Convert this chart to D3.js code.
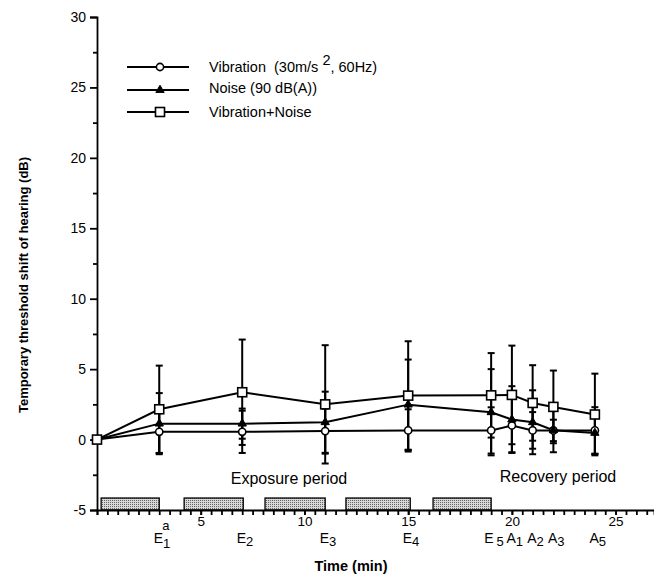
<!DOCTYPE html>
<html>
<head>
<meta charset="utf-8">
<script src="https://cdn.jsdelivr.net/npm/d3@7"></script>
<style>
  body { margin: 0; background: #fff; }
  svg text { font-family: "Liberation Sans", Arial, sans-serif; fill: #000; }
</style>
</head>
<body>
<div id="chart"></div>
<script>
// sampling times (min)
const times = [0, 3, 7, 11, 15, 19, 20, 21, 22, 24];

// mean TTS (dB)
const vibration = [0, 0.55, 0.55, 0.6, 0.65, 0.65, 1.0, 0.65, 0.65, 0.65];
const noise = [0, 1.13, 1.13, 1.23, 2.48, 1.94, 1.42, 1.23, 0.66, 0.47];
const vibNoise = [0, 2.15, 3.36, 2.5, 3.12, 3.14, 3.17, 2.6, 2.32, 1.78];

// standard deviations
const vibrationSD = [0, 1.5, 1.5, 1.6, 1.5, 1.64, 1.9, 1.3, 0.76, 1.65];
const noiseSD = [0, 2.17, 1.07, 2.17, 3.2, 3.06, 2.37, 2.27, 1.56, 1.5];
const vibNoiseSD = [0, 3.1, 3.74, 4.2, 3.86, 3.0, 3.5, 2.68, 2.58, 2.9];

// exposure blocks (start, end in min)
const exposureStart = [0.2, 4.2, 8.1, 12, 16.2];
const exposureEnd = [3, 7.05, 11, 15.1, 19];

// labels under the x axis
const pointLabels = ["E", "E", "E", "E", "E", "A", "A", "A", "A"];
const pointSubs = ["1", "2", "3", "4", "5", "1", "2", "3", "5"];
const pointTimes = [3, 7, 11, 15, 19, 20, 21, 22, 24];

const yTicks = [-5, 0, 5, 10, 15, 20, 25, 30];
const xTicks = [5, 10, 15, 20, 25];

//chart size
const width = 654;
const height = 580;

const svg = d3.select("#chart")
  .append("svg")
  .attr("width", width)
  .attr("height", height);

// stipple pattern for exposure blocks
const defs = svg.append("defs");
const pat = defs.append("pattern")
  .attr("id", "stipple")
  .attr("width", 2)
  .attr("height", 2)
  .attr("patternUnits", "userSpaceOnUse");
pat.append("rect").attr("width", 2).attr("height", 2).attr("fill", "#d8d8d8");
pat.append("rect").attr("width", 1).attr("height", 1).attr("fill", "#666");

const x = d3.scaleLinear().domain([0, 26.85]).range([97, 654]);
const y = d3.scaleLinear().domain([-5, 30]).range([510, 17]);

// exposure blocks
svg.selectAll(".block")
  .data(exposureStart)
  .enter().append("rect")
  .attr("class", "block")
  .attr("x", (d, i) => x(d))
  .attr("y", y(-4.15))
  .attr("width", (d, i) => x(exposureEnd[i]) - x(d))
  .attr("height", y(-5) - y(-4.15))
  .attr("fill", "url(#stipple)")
  .attr("stroke", "#000")
  .attr("stroke-width", 1.3);

//y-axis
const yAxis = svg.append("g")
  .attr("transform", `translate(${x(0)},0)`)
  .call(d3.axisLeft(y).tickValues(yTicks).tickSize(7).tickPadding(4).tickFormat(d => String(d)));
yAxis.selectAll("text").style("font-size", "14px");
svg.append("g")
  .attr("transform", `translate(${x(0)},0)`)
  .call(d3.axisLeft(y).tickValues(d3.range(-2.5, 30, 5)).tickSize(4).tickFormat(""))
  .select(".domain").remove();

//x-axis
const xAxis = svg.append("g")
  .attr("transform", `translate(0,${y(-5)})`)
  .call(d3.axisBottom(x).tickValues(xTicks).tickSize(5).tickPadding(1));
xAxis.selectAll("text").style("font-size", "13.5px");
svg.append("g")
  .attr("transform", `translate(0,${y(-5)})`)
  .call(d3.axisBottom(x).tickValues(d3.range(0, 27, 0.5)).tickSize(5).tickFormat(""))
  .select(".domain").remove();

svg.selectAll(".domain, .tick line")
  .attr("stroke", "#000")
  .attr("stroke-width", 1.8);

// E / A labels
const lab = svg.selectAll(".plabel")
  .data(pointTimes)
  .enter().append("text")
  .attr("class", "plabel")
  .attr("x", (d, i) => x(d) - (i === 4 ? 7 : 5.5))
  .attr("y", 543)
  .style("font-size", "14px");
lab.append("tspan").text((d, i) => pointLabels[i]);
lab.append("tspan")
  .attr("dy", (d, i) => i === 0 ? 5 : 3)
  .attr("dx", (d, i) => i === 4 ? 3 : 0)
  .style("font-size", "13px")
  .text((d, i) => pointSubs[i]);
svg.append("text")
  .attr("x", x(3) + 3)
  .attr("y", 530)
  .style("font-size", "13px")
  .text("a");

// error bars
const series = [
  { values: vibration, sd: vibrationSD },
  { values: noise, sd: noiseSD },
  { values: vibNoise, sd: vibNoiseSD }
];
series.forEach(s => {
  const g = svg.append("g");
  times.forEach((t, i) => {
    if (s.sd[i] === 0) return;
    const hi = s.values[i] + s.sd[i];
    const lo = s.values[i] - s.sd[i];
    g.append("line")
      .attr("x1", x(t)).attr("x2", x(t))
      .attr("y1", y(hi)).attr("y2", y(lo))
      .attr("stroke", "#000").attr("stroke-width", 2);
    [hi, lo].forEach(v => {
      g.append("line")
        .attr("x1", x(t) - 3.5).attr("x2", x(t) + 3.5)
        .attr("y1", y(v)).attr("y2", y(v))
        .attr("stroke", "#000").attr("stroke-width", 2);
    });
  });
});

// lines
const line = d3.line()
  .x((d, i) => x(times[i]))
  .y(d => y(d));
[vibration, noise, vibNoise].forEach(vals => {
  svg.append("path")
    .datum(vals)
    .attr("d", line)
    .attr("fill", "none")
    .attr("stroke", "#000")
    .attr("stroke-width", 2);
});

// markers
const tri = d3.symbol().type(d3.symbolTriangle).size(30);
function drawCircle(g, cx, cy) {
  g.append("circle").attr("cx", cx).attr("cy", cy).attr("r", 3.6)
    .attr("fill", "#fff").attr("stroke", "#000").attr("stroke-width", 1.6);
}
function drawTri(g, cx, cy) {
  g.append("path").attr("d", tri).attr("transform", `translate(${cx},${cy})`)
    .attr("fill", "#000").attr("stroke", "#000").attr("stroke-width", 1);
}
function drawSquare(g, cx, cy) {
  g.append("rect").attr("x", cx - 4.5).attr("y", cy - 4.5).attr("width", 9).attr("height", 9)
    .attr("fill", "#fff").attr("stroke", "#000").attr("stroke-width", 1.6);
}
const mk = svg.append("g");
times.forEach((t, i) => { if (i > 0) drawCircle(mk, x(t), y(vibration[i])); });
times.forEach((t, i) => { if (i > 0) drawTri(mk, x(t), y(noise[i])); });
times.forEach((t, i) => drawSquare(mk, x(t), y(vibNoise[i])));

// legend
const legendRows = [67, 90, 112];
const leg = svg.append("g");
legendRows.forEach((ly, i) => {
  leg.append("line").attr("x1", 127).attr("x2", 189).attr("y1", ly).attr("y2", ly)
    .attr("stroke", "#000").attr("stroke-width", 2);
});
drawCircle(leg, 160, legendRows[0]);
drawTri(leg, 160, legendRows[1]);
drawSquare(leg, 160, legendRows[2]);

const t1 = leg.append("text").attr("x", 209).attr("y", legendRows[0] + 5).style("font-size", "14.5px");
t1.append("tspan").text("Vibration\u00a0\u00a0(30m/s\u00a0");
t1.append("tspan").attr("dy", -7).text("2");
t1.append("tspan").attr("dy", 7).text(", 60Hz)");
leg.append("text").attr("x", 209).attr("y", legendRows[1] + 3).style("font-size", "14.5px")
  .text("Noise (90 dB(A))");
leg.append("text").attr("x", 209).attr("y", legendRows[2] + 5).style("font-size", "14.5px")
  .text("Vibration+Noise");

// period labels
svg.append("text").attr("x", 289).attr("y", 484).attr("text-anchor", "middle")
  .style("font-size", "16px").text("Exposure period");
svg.append("text").attr("x", 558).attr("y", 482).attr("text-anchor", "middle")
  .style("font-size", "16px").text("Recovery period");

// axis titles
svg.append("text").attr("x", 351).attr("y", 571).attr("text-anchor", "middle")
  .style("font-size", "14.5px").style("font-weight", "bold").text("Time (min)");
svg.append("text")
  .attr("transform", `translate(28,${285}) rotate(-90)`)
  .attr("text-anchor", "middle")
  .style("font-size", "13px").style("font-weight", "bold")
  .text("Temporary threshold shift of hearing (dB)");
</script>
</body>
</html>
